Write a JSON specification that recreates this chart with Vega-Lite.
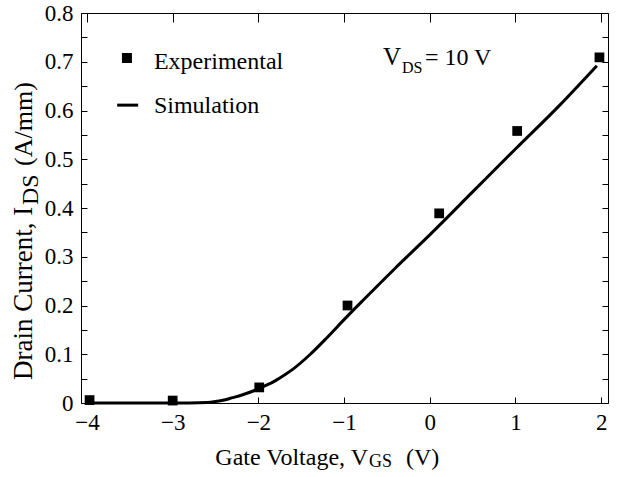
{
  "$schema": "https://vega.github.io/schema/vega-lite/v6.json",
  "width": 527,
  "height": 390,
  "autosize": {"type": "none"},
  "padding": {"left": 81, "top": 13, "right": 15, "bottom": 74},
  "background": "white",
  "config": {
    "view": {"stroke": null},
    "font": "Liberation Serif",
    "text": {"font": "Liberation Serif", "color": "black"},
    "axis": {
      "domainColor": "black",
      "domainWidth": 1,
      "tickColor": "black",
      "tickWidth": 1,
      "labelColor": "black",
      "labelFont": "Liberation Serif",
      "labelFontSize": 23,
      "labelFlush": false,
      "labelOverlap": false,
      "grid": false,
      "title": null
    }
  },
  "datasets": {
    "measured": [
      {"vgs": -3.97, "ids": 0.006},
      {"vgs": -3.0, "ids": 0.005},
      {"vgs": -1.99, "ids": 0.032},
      {"vgs": -0.96, "ids": 0.2},
      {"vgs": 0.11, "ids": 0.389},
      {"vgs": 1.02, "ids": 0.558},
      {"vgs": 1.98, "ids": 0.709}
    ],
    "simulated": [
      {"vgs": -4.0, "ids": 0.0},
      {"vgs": -3.5, "ids": 0.0},
      {"vgs": -3.0, "ids": 0.0},
      {"vgs": -2.8, "ids": 0.0},
      {"vgs": -2.6, "ids": 0.001},
      {"vgs": -2.5, "ids": 0.003},
      {"vgs": -2.4, "ids": 0.006},
      {"vgs": -2.3, "ids": 0.011},
      {"vgs": -2.2, "ids": 0.016},
      {"vgs": -2.1, "ids": 0.022},
      {"vgs": -2.0, "ids": 0.029},
      {"vgs": -1.9, "ids": 0.037},
      {"vgs": -1.8, "ids": 0.046},
      {"vgs": -1.7, "ids": 0.057},
      {"vgs": -1.6, "ids": 0.069},
      {"vgs": -1.4, "ids": 0.099},
      {"vgs": -1.2, "ids": 0.134},
      {"vgs": -1.0, "ids": 0.171},
      {"vgs": -0.8, "ids": 0.207},
      {"vgs": -0.6, "ids": 0.242},
      {"vgs": -0.4, "ids": 0.277},
      {"vgs": -0.2, "ids": 0.311},
      {"vgs": 0.0, "ids": 0.345},
      {"vgs": 0.5, "ids": 0.433},
      {"vgs": 1.0, "ids": 0.521},
      {"vgs": 1.5, "ids": 0.608},
      {"vgs": 1.95, "ids": 0.692}
    ]
  },
  "layer": [
    {
      "data": {"name": "measured"},
      "mark": {"type": "square", "size": 95, "color": "black", "opacity": 1},
      "encoding": {
        "x": {
          "field": "vgs", "type": "quantitative",
          "scale": {"domain": [-4.07, 2.08], "nice": false, "zero": false},
          "axis": {"orient": "bottom", "values": [-4, -3, -2, -1, 0, 1, 2], "tickSize": -6, "labelPadding": 14}
        },
        "y": {
          "field": "ids", "type": "quantitative",
          "scale": {"domain": [0, 0.8], "nice": false},
          "axis": {
            "orient": "left",
            "values": [0, 0.05, 0.1, 0.15, 0.2, 0.25, 0.3, 0.35, 0.4, 0.45, 0.5, 0.55, 0.6, 0.65, 0.7, 0.75, 0.8],
            "labelExpr": "round(datum.value * 20) % 2 == 0 ? (datum.value == 0 ? '0' : format(datum.value, '.1f')) : ''",
            "tickSize": -6,
            "labelPadding": 14
          }
        }
      }
    },
    {
      "data": {"name": "simulated"},
      "mark": {"type": "line", "color": "black", "strokeWidth": 3, "interpolate": "monotone"},
      "encoding": {
        "x": {
          "field": "vgs", "type": "quantitative",
          "scale": {"domain": [-4.07, 2.08], "nice": false, "zero": false},
          "axis": {"orient": "top", "values": [-4, -3, -2, -1, 0, 1, 2], "tickSize": -9, "labels": false}
        },
        "y": {
          "field": "ids", "type": "quantitative",
          "scale": {"domain": [0, 0.8], "nice": false},
          "axis": {
            "orient": "right",
            "values": [0, 0.05, 0.1, 0.15, 0.2, 0.25, 0.3, 0.35, 0.4, 0.45, 0.5, 0.55, 0.6, 0.65, 0.7, 0.75, 0.8],
            "tickSize": -6,
            "labels": false
          }
        }
      }
    },
    {
      "data": {"values": [{"label": "Experimental"}]},
      "mark": {"type": "square", "size": 100, "color": "black", "opacity": 1},
      "encoding": {
        "x": {"datum": -3.534, "type": "quantitative", "axis": null},
        "y": {"datum": 0.7077, "type": "quantitative", "axis": null}
      }
    },
    {
      "data": {"values": [{"label": "Experimental"}]},
      "mark": {"type": "text", "align": "left", "baseline": "alphabetic", "fontSize": 24},
      "encoding": {
        "x": {"datum": -3.219, "type": "quantitative", "axis": null},
        "y": {"datum": 0.685, "type": "quantitative", "axis": null},
        "text": {"field": "label"}
      }
    },
    {
      "data": {"values": [{"label": "Simulation"}]},
      "mark": {"type": "rule", "color": "black", "strokeWidth": 3},
      "encoding": {
        "x": {"datum": -3.648, "type": "quantitative", "axis": null},
        "x2": {"datum": -3.403},
        "y": {"datum": 0.611, "type": "quantitative", "axis": null}
      }
    },
    {
      "data": {"values": [{"label": "Simulation"}]},
      "mark": {"type": "text", "align": "left", "baseline": "alphabetic", "fontSize": 24},
      "encoding": {
        "x": {"datum": -3.219, "type": "quantitative", "axis": null},
        "y": {"datum": 0.595, "type": "quantitative", "axis": null},
        "text": {"field": "label"}
      }
    },
    {
      "data": {"values": [{"label": "V"}]},
      "mark": {"type": "text", "align": "left", "baseline": "alphabetic", "fontSize": 25},
      "encoding": {
        "x": {"datum": -0.546, "type": "quantitative", "axis": null},
        "y": {"datum": 0.6933, "type": "quantitative", "axis": null},
        "text": {"field": "label"}
      }
    },
    {
      "data": {"values": [{"label": "DS"}]},
      "mark": {"type": "text", "align": "left", "baseline": "alphabetic", "fontSize": 16},
      "encoding": {
        "x": {"datum": -0.325, "type": "quantitative", "axis": null},
        "y": {"datum": 0.6769, "type": "quantitative", "axis": null},
        "text": {"field": "label"}
      }
    },
    {
      "data": {"values": [{"label": "= 10 V"}]},
      "mark": {"type": "text", "align": "left", "baseline": "alphabetic", "fontSize": 24},
      "encoding": {
        "x": {"datum": -0.056, "type": "quantitative", "axis": null},
        "y": {"datum": 0.6933, "type": "quantitative", "axis": null},
        "text": {"field": "label"}
      }
    },
    {
      "data": {"values": [{"label": "Gate Voltage, V"}]},
      "mark": {"type": "text", "align": "right", "baseline": "alphabetic", "fontSize": 24},
      "encoding": {
        "x": {"datum": -0.721, "type": "quantitative", "axis": null},
        "y": {"datum": -0.127, "type": "quantitative", "axis": null},
        "text": {"field": "label"}
      }
    },
    {
      "data": {"values": [{"label": "GS"}]},
      "mark": {"type": "text", "align": "left", "baseline": "alphabetic", "fontSize": 18},
      "encoding": {
        "x": {"datum": -0.709, "type": "quantitative", "axis": null},
        "y": {"datum": -0.131, "type": "quantitative", "axis": null},
        "text": {"field": "label"}
      }
    },
    {
      "data": {"values": [{"label": "(V)"}]},
      "mark": {"type": "text", "align": "left", "baseline": "alphabetic", "fontSize": 24},
      "encoding": {
        "x": {"datum": -0.278, "type": "quantitative", "axis": null},
        "y": {"datum": -0.127, "type": "quantitative", "axis": null},
        "text": {"field": "label"}
      }
    },
    {
      "data": {"values": [{"label": "Drain Current, I"}]},
      "mark": {"type": "text", "align": "left", "baseline": "alphabetic", "fontSize": 27, "angle": 270},
      "encoding": {
        "x": {"datum": -4.646, "type": "quantitative", "axis": null},
        "y": {"datum": 0.0472, "type": "quantitative", "axis": null},
        "text": {"field": "label"}
      }
    },
    {
      "data": {"values": [{"label": "DS"}]},
      "mark": {"type": "text", "align": "left", "baseline": "alphabetic", "fontSize": 24, "angle": 270},
      "encoding": {
        "x": {"datum": -4.572, "type": "quantitative", "axis": null},
        "y": {"datum": 0.4062, "type": "quantitative", "axis": null},
        "text": {"field": "label"}
      }
    },
    {
      "data": {"values": [{"label": "(A/mm)"}]},
      "mark": {"type": "text", "align": "left", "baseline": "alphabetic", "fontSize": 26, "angle": 270},
      "encoding": {
        "x": {"datum": -4.646, "type": "quantitative", "axis": null},
        "y": {"datum": 0.4862, "type": "quantitative", "axis": null},
        "text": {"field": "label"}
      }
    }
  ],
  "resolve": {"axis": {"x": "independent", "y": "independent"}}
}
